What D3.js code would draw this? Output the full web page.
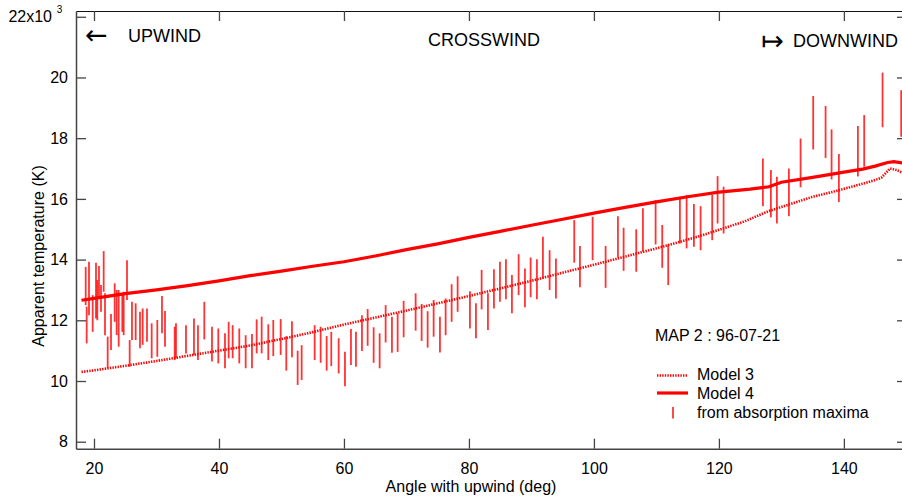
<!DOCTYPE html>
<html><head><meta charset="utf-8">
<script src="https://cdn.jsdelivr.net/npm/d3@7"></script>
<style>
html,body{margin:0;padding:0;background:#fff;}
svg{display:block;font-family:"Liberation Sans",Arial,Helvetica,sans-serif;}
</style></head>
<body><svg id="c" width="902" height="497"></svg>
<script>
// ---- data ----
const xTicks = [20, 40, 60, 80, 100, 120, 140];
const yTicks = [8, 10, 12, 14, 16, 18, 20, 22];
const yTickLabels = ["8", "10", "12", "14", "16", "18", "20", "22x10"];

const model3Angle = [18, 20, 25, 30, 35, 40, 45, 48, 50, 55, 60, 65, 70, 75, 80, 85, 90, 95, 100, 105, 110, 114, 117, 120, 124, 128, 131, 135, 138, 140, 143, 145, 146, 147.4, 148.5, 149.5];
const model3Temp  = [10.3, 10.35, 10.5, 10.66, 10.83, 11.0, 11.17, 11.3, 11.38, 11.61, 11.86, 12.09, 12.32, 12.56, 12.8, 13.05, 13.3, 13.57, 13.83, 14.1, 14.37, 14.6, 14.78, 14.98, 15.25, 15.6, 15.8, 16.07, 16.22, 16.33, 16.5, 16.62, 16.7, 17.0, 16.95, 16.84];

const model4Angle = [18, 20, 25, 30, 35, 40, 45, 50, 55, 60, 65, 70, 75, 80, 85, 90, 95, 100, 105, 110, 115, 120, 125, 128, 130, 135, 140, 143, 145, 147, 148, 149.5];
const model4Temp  = [12.66, 12.72, 12.88, 13.0, 13.14, 13.3, 13.47, 13.62, 13.78, 13.93, 14.12, 14.33, 14.52, 14.73, 14.93, 15.13, 15.33, 15.53, 15.72, 15.9, 16.07, 16.22, 16.32, 16.4, 16.55, 16.71, 16.88, 16.98, 17.08, 17.2, 17.23, 17.18];

const barAngle = [18.67, 18.83, 19.2, 19.79, 20.32, 20.53, 20.8, 21.12, 21.55, 21.76, 22.19, 22.72, 23.31, 23.63, 23.95, 24.53, 24.75, 25.28, 25.71, 26.08, 26.67, 27.36, 27.79, 28.48, 29.23, 30.13, 30.88, 31.36, 32.91, 33.12, 34.72, 36.0, 36.64, 37.65, 38.88, 39.89, 40.96, 41.55, 42.19, 43.25, 44.27, 45.28, 46.03, 46.83, 47.89, 48.69, 49.87, 50.77, 51.68, 52.59, 53.23, 55.31, 56.27, 57.23, 57.97, 59.15, 60.16, 61.12, 61.92, 62.88, 63.79, 64.75, 65.71, 66.67, 67.68, 68.59, 69.55, 71.47, 72.43, 73.39, 74.35, 75.36, 76.27, 77.23, 78.19, 80.16, 81.12, 82.03, 83.04, 84.0, 84.96, 85.92, 86.88, 87.95, 88.96, 89.87, 90.88, 91.84, 92.91, 93.92, 96.85, 97.76, 99.79, 101.87, 103.84, 104.75, 106.77, 107.84, 109.87, 110.93, 111.89, 113.76, 114.83, 116.0, 117.07, 118.93, 119.79, 120.75, 127.04, 128.32, 129.28, 131.2, 133.07, 135.09, 137.07, 138.03, 139.2, 142.24, 143.25, 146.19, 149.17];
const barHigh = [13.76, 12.45, 13.93, 12.83, 13.9, 13.33, 13.79, 13.16, 14.28, 12.89, 11.46, 12.21, 13.22, 13.0, 13.0, 12.83, 12.94, 13.98, 11.35, 12.61, 12.56, 12.28, 12.39, 12.39, 11.9, 12.01, 12.8, 12.31, 11.79, 11.9, 11.84, 12.06, 11.84, 12.61, 11.79, 11.73, 11.57, 11.95, 11.84, 11.73, 11.51, 11.55, 12.03, 12.12, 11.87, 12.01, 12.04, 11.48, 11.97, 11.0, 11.18, 11.84, 11.79, 11.48, 11.62, 11.41, 10.96, 11.71, 11.62, 12.17, 12.37, 11.77, 11.57, 12.5, 12.12, 12.23, 12.64, 12.89, 12.54, 12.3, 12.67, 12.12, 12.72, 13.19, 13.45, 12.96, 12.56, 13.66, 12.89, 13.68, 13.93, 14.01, 13.49, 14.18, 13.71, 14.07, 14.01, 14.75, 14.31, 14.04, 15.3, 14.45, 15.41, 14.45, 15.43, 15.05, 15.0, 15.69, 15.96, 15.14, 14.51, 16.07, 16.13, 15.83, 15.76, 16.13, 16.75, 16.4, 17.33, 16.95, 16.73, 17.0, 17.99, 19.39, 19.06, 18.29, 17.48, 18.4, 18.76, 20.16, 19.58];
const barLow = [12.5, 11.24, 12.17, 11.62, 12.06, 12.0, 12.72, 12.28, 12.94, 11.51, 10.42, 11.02, 11.95, 11.51, 11.13, 11.62, 11.51, 12.67, 10.47, 11.35, 11.35, 11.08, 11.19, 11.29, 10.75, 10.8, 11.57, 11.13, 10.69, 10.75, 10.91, 10.86, 10.69, 11.37, 10.64, 10.58, 10.42, 10.75, 10.75, 10.58, 10.42, 10.42, 10.91, 10.91, 10.69, 10.82, 10.86, 10.34, 10.78, 9.87, 10.03, 10.69, 10.6, 10.34, 10.49, 10.25, 9.83, 10.53, 10.47, 10.99, 11.16, 10.6, 10.42, 11.27, 10.93, 10.96, 11.44, 11.66, 11.32, 11.1, 11.46, 10.94, 11.51, 11.95, 12.28, 11.73, 11.41, 12.36, 11.68, 12.39, 12.61, 12.69, 12.23, 12.83, 12.43, 12.76, 12.69, 13.38, 13.0, 12.72, 13.9, 13.09, 13.98, 13.07, 14.07, 13.63, 13.6, 14.26, 14.5, 13.73, 13.16, 14.53, 14.37, 14.42, 14.31, 14.64, 15.19, 14.86, 15.76, 15.39, 15.19, 15.43, 16.38, 17.63, 17.35, 16.64, 15.9, 16.74, 17.06, 18.36, 18.05];

const headers = ["UPWIND", "CROSSWIND", "DOWNWIND"];
const legendTitle = "MAP 2 : 96-07-21";
const legendNames = ["Model 3", "Model 4", "from absorption maxima"];

// ---- chart ----
const svg = d3.select("#c");
const red = "#ff0000";
const x = d3.scaleLinear().domain([17.12, 150.1]).range([76, 907]);
const y = d3.scaleLinear().domain([7.77, 22.19]).range([448.7, 11]);
const axisColor = "#444";

// bars
svg.append("g").selectAll("line").data(barAngle).join("line")
  .attr("x1", d => x(d)).attr("x2", d => x(d))
  .attr("y1", (d, i) => y(barLow[i])).attr("y2", (d, i) => y(barHigh[i]))
  .attr("stroke", red).attr("stroke-width", 1.8).attr("stroke-opacity", 0.8);

// model lines
const m3 = model3Angle.map((a, i) => [a, model3Temp[i]]);
const m4 = model4Angle.map((a, i) => [a, model4Temp[i]]);
const line = d3.line().x(d => x(d[0])).y(d => y(d[1]));
svg.append("path").datum(m3).attr("d", line).attr("fill", "none")
  .attr("stroke", red).attr("stroke-width", 2.6).attr("stroke-dasharray", "1.4,1.2");
svg.append("path").datum(m4).attr("d", line).attr("fill", "none")
  .attr("stroke", red).attr("stroke-width", 3.2);

// axes
const fs = "16px";
const gBottom = svg.append("g").attr("transform", `translate(0,${y.range()[0]})`)
  .call(d3.axisBottom(x).tickValues(xTicks).tickSizeInner(-10).tickSizeOuter(0).tickPadding(14));
const gTop = svg.append("g").attr("transform", `translate(0,${y.range()[1]})`)
  .call(d3.axisTop(x).tickValues(xTicks).tickSizeInner(-10).tickSizeOuter(0).tickFormat(""));
const gLeft = svg.append("g").attr("transform", `translate(${x.range()[0]},0)`)
  .call(d3.axisLeft(y).tickValues(yTicks).tickSizeInner(-10).tickSizeOuter(0).tickPadding(8)
    .tickFormat((d, i) => yTickLabels[i]));
const gRight = svg.append("g").attr("transform", `translate(${x.range()[1]},0)`)
  .call(d3.axisRight(y).tickValues(yTicks).tickSizeInner(-10).tickSizeOuter(0).tickFormat(""));
[gBottom, gTop, gLeft, gRight].forEach(g => {
  g.select(".domain").attr("stroke", axisColor).attr("stroke-width", 1.5);
  g.selectAll(".tick line").attr("stroke", axisColor).attr("stroke-width", 1.3);
  g.selectAll("text").attr("fill", "#000").style("font-size", fs);
});
gTop.select(".domain").attr("stroke", "#111").attr("stroke-width", 1.2);
gLeft.selectAll(".tick text").filter(d => d === 22).attr("dx", "-16");
gLeft.append("text").attr("x", -16.5).attr("y", 13).attr("fill", "#000")
  .style("font-size", "10px").attr("text-anchor", "middle").text("3");

// axis titles
svg.append("text").attr("x", 471).attr("y", 492).attr("text-anchor", "middle")
  .style("font-size", fs).text("Angle with upwind (deg)");
svg.append("text").attr("transform", "translate(44,256) rotate(-90)").attr("text-anchor", "middle")
  .style("font-size", fs).text("Apparent temperature (K)");

// headers
const arrowFont = "'DejaVu Sans', sans-serif";
svg.append("text").attr("x", 85).attr("y", 44).style("font-size", "27px").style("font-family", arrowFont).text("\u2190");
svg.append("text").attr("x", 128).attr("y", 42).style("font-size", "18px").text(headers[0]);
svg.append("text").attr("x", 484).attr("y", 46).attr("text-anchor", "middle").style("font-size", "18px").text(headers[1]);
svg.append("text").attr("x", 761).attr("y", 50).style("font-size", "27px").style("font-family", arrowFont).text("\u21A6");
svg.append("text").attr("x", 898).attr("y", 47).attr("text-anchor", "end").style("font-size", "18px").text(headers[2]);

// legend
svg.append("text").attr("x", 655).attr("y", 341).style("font-size", fs).text(legendTitle);
const lg = svg.append("g");
lg.append("line").attr("x1", 657).attr("x2", 688).attr("y1", 375.5).attr("y2", 375.5)
  .attr("stroke", red).attr("stroke-width", 2.6).attr("stroke-dasharray", "1.4,1.2");
lg.append("line").attr("x1", 657).attr("x2", 688).attr("y1", 393).attr("y2", 393)
  .attr("stroke", red).attr("stroke-width", 3.2);
lg.append("line").attr("x1", 673).attr("x2", 673).attr("y1", 407).attr("y2", 418.5)
  .attr("stroke", red).attr("stroke-width", 1.8).attr("stroke-opacity", 0.8);
[380, 398.5, 418].forEach((yy, i) => lg.append("text").attr("x", 697).attr("y", yy)
  .style("font-size", fs).text(legendNames[i]));
</script></body></html>
